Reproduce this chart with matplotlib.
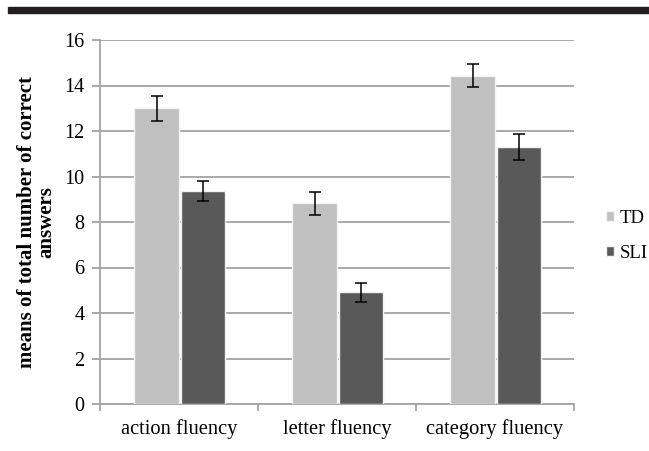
import numpy as np
import matplotlib
matplotlib.use('Agg')
import matplotlib.pyplot as plt
from matplotlib.patches import Rectangle

plt.rcParams['font.family'] = ['Liberation Serif', 'DejaVu Serif']

# data
categories = ['action fluency', 'letter fluency', 'category fluency']
td_means = [13.0, 8.82, 14.43]
td_err = [0.55, 0.5, 0.5]
sli_means = [9.37, 4.91, 11.28]
sli_err = [0.45, 0.43, 0.57]
y_ticks = [0, 2, 4, 6, 8, 10, 12, 14, 16]

grid_col = '#a3a3a3'

fig = plt.figure(figsize=(6.49, 4.51), dpi=100)
# black rule across the top of the page
fig.patches.append(Rectangle((8 / 649, 438 / 451), 1, 6 / 451, transform=fig.transFigure,
                             color='#231f20', zorder=0))

ax = fig.add_axes([100 / 649, 47 / 451, 474 / 649, 364 / 451])

x = np.arange(len(categories))
w = 0.28
ax.bar(x - 0.142, td_means, w, color='#c0c0c0', edgecolor='#f2f2f2', linewidth=1, zorder=3,
       yerr=td_err, error_kw=dict(ecolor='black', elinewidth=1.1, capsize=4, capthick=1.1),
       label='TD')
ax.bar(x + 0.153, sli_means, w, color='#595959', edgecolor='#f2f2f2', linewidth=1, zorder=3,
       yerr=sli_err, error_kw=dict(ecolor='black', elinewidth=1.1, capsize=4, capthick=1.1),
       label='SLI')

ax.set_xlim(-0.5, 2.5)
ax.set_ylim(0, 16)
ax.set_yticks(y_ticks)
ax.yaxis.grid(True, color=grid_col, linewidth=1.3, zorder=0)
ax.set_axisbelow(True)

for s in ['top', 'right']:
    ax.spines[s].set_visible(False)
ax.spines['left'].set_color(grid_col)
ax.spines['bottom'].set_color(grid_col)
ax.spines['left'].set_linewidth(1.3)
ax.spines['bottom'].set_linewidth(1.3)

ax.set_xticks([-0.5, 0.5, 1.5, 2.5])
ax.set_xticklabels([])
ax.set_xticks(x, minor=True)
ax.set_xticklabels(categories, minor=True, fontsize=14.8)
ax.tick_params(axis='x', which='minor', length=0, pad=11)
ax.tick_params(axis='x', which='major', length=5, color=grid_col, width=1.3)
ax.tick_params(axis='y', length=6, color=grid_col, width=1.3, labelsize=14.5, pad=5)

ax.set_ylabel('means of total number of correct\nanswers', fontsize=15, fontweight='bold',
              linespacing=0.95, labelpad=6)

leg = fig.legend(loc='upper left', bbox_to_anchor=(606 / 649, 1 - 210 / 451), frameon=False,
                 fontsize=13.5, handlelength=0.45, handleheight=0.45, handletextpad=0.3,
                 labelspacing=0.95, borderaxespad=0, borderpad=0)

fig.savefig('out.png', dpi=100)
